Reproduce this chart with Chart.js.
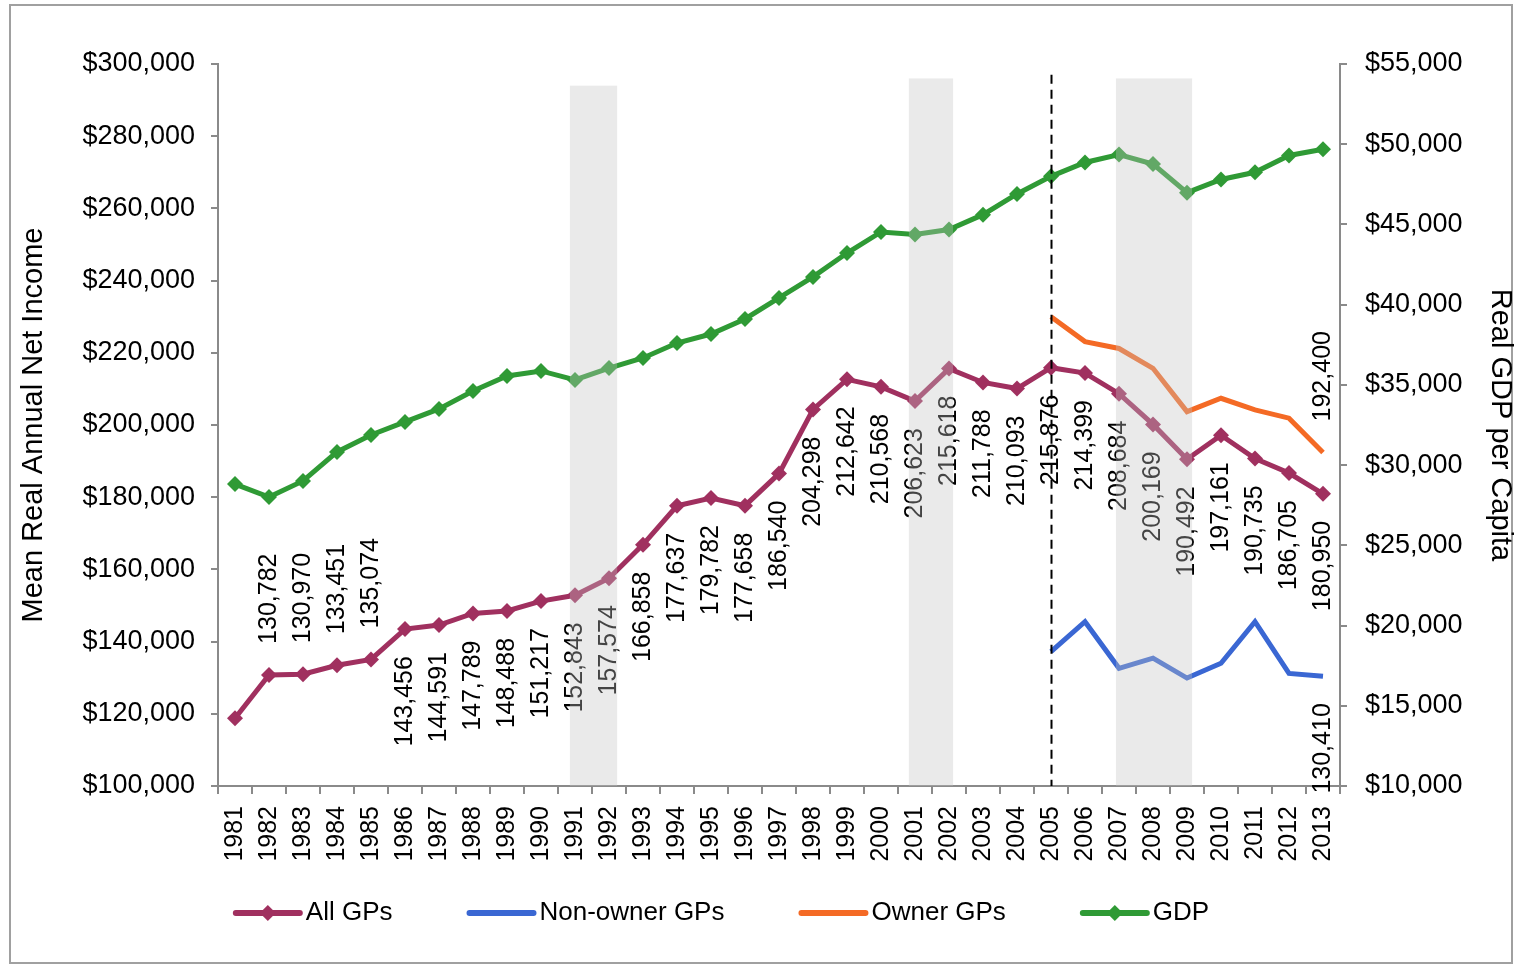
<!DOCTYPE html>
<html>
<head>
<meta charset="utf-8">
<script src="https://cdn.jsdelivr.net/npm/chart.js@4.4.1/dist/chart.umd.min.js"></script>
<style>
  html, body { margin: 0; padding: 0; background: #fff; }
  #wrap { width: 1515px; height: 968px; position: relative; }
</style>
</head>
<body>
<div id="wrap"><canvas id="graph"></canvas></div>
<script>
const years = ["1981","1982","1983","1984","1985","1986","1987","1988","1989","1990",
  "1991","1992","1993","1994","1995","1996","1997","1998","1999","2000",
  "2001","2002","2003","2004","2005","2006","2007","2008","2009","2010",
  "2011","2012","2013"];

const allGPs = [118750, 130782, 130970, 133451, 135074, 143456, 144591, 147789, 148488, 151217,
  152843, 157574, 166858, 177637, 179782, 177658, 186540, 204298, 212642, 210568,
  206623, 215618, 211788, 210093, 215876, 214399, 208684, 200169, 190492, 197161,
  190735, 186705, 180950];

const nonOwnerGPs = [null, null, null, null, null, null, null, null, null, null,
  null, null, null, null, null, null, null, null, null, null,
  null, null, null, null, 137200, 145500, 132600, 135400, 129900, 134000,
  145500, 131200, 130410];

const ownerGPs = [null, null, null, null, null, null, null, null, null, null,
  null, null, null, null, null, null, null, null, null, null,
  null, null, null, null, 230000, 223100, 221200, 215700, 203700, 207400,
  204200, 201900, 192400];

const gdp = [28820, 28010, 29010, 30820, 31880, 32690, 33500, 34620, 35560, 35870,
  35310, 36050, 36680, 37610, 38170, 39110, 40420, 41730, 43220, 44530,
  44370, 44680, 45610, 46900, 48000, 48860, 49360, 48760, 46980, 47800,
  48250, 49300, 49690];

const leftTicks = [100000, 120000, 140000, 160000, 180000, 200000, 220000, 240000, 260000, 280000, 300000];
const rightTicks = [10000, 15000, 20000, 25000, 30000, 35000, 40000, 45000, 50000, 55000];

// shaded recession periods (in year units) and the dashed marker year
const recessionStart = [1990.85, 2000.82, 2006.91];
const recessionEnd = [1992.24, 2002.12, 2009.15];
const recessionTop = [294000, 296000, 296000];
const markerYear = 2005;
const markerTop = 297000;

// where each value label sits relative to its point
const allLabelSide = ["none", "above", "above", "above", "above", "below", "below", "below", "below", "below",
  "below", "below", "below", "below", "below", "below", "below", "below", "below", "below",
  "below", "below", "below", "below", "below", "below", "below", "below", "below", "below",
  "below", "below", "below"];

const FONT = "'Liberation Sans', Arial, sans-serif";
const fmt = v => v.toLocaleString("en-US");

function sideFor(ds, i) {
  if (ds.label === "All GPs") return allLabelSide[i];
  if (i === ds.data.length - 1 && ds.data[i] != null) {
    return ds.label === "Owner GPs" ? "above" : ds.label === "Non-owner GPs" ? "below" : "none";
  }
  return "none";
}

const overlays = {
  id: "overlays",
  beforeDraw(chart) {
    const ctx = chart.ctx;
    ctx.save();
    ctx.fillStyle = "#fff";
    ctx.fillRect(0, 0, chart.width, chart.height);
    ctx.strokeStyle = "#a0a0a0";
    ctx.lineWidth = 2;
    ctx.strokeRect(10, 5, chart.width - 13, chart.height - 10);
    ctx.restore();
  },
  afterDatasetsDraw(chart) {
    const ctx = chart.ctx;
    const x = chart.scales.x, y = chart.scales.y;

    // value labels
    ctx.save();
    ctx.font = "25px " + FONT;
    ctx.fillStyle = "#000";
    ctx.textBaseline = "middle";
    chart.data.datasets.forEach((ds, di) => {
      const meta = chart.getDatasetMeta(di);
      ds.data.forEach((v, i) => {
        const side = sideFor(ds, i);
        if (v == null || side === "none") return;
        const p = meta.data[i];
        ctx.save();
        if (side === "below") {
          ctx.translate(p.x, p.y + 27);
          ctx.textAlign = "right";
        } else {
          ctx.translate(p.x, p.y - 31);
          ctx.textAlign = "left";
        }
        ctx.rotate(-Math.PI / 2);
        ctx.fillText(fmt(v), 0, 0);
        ctx.restore();
      });
    });
    ctx.restore();

    // recession bands
    ctx.save();
    ctx.fillStyle = "rgba(195,195,195,0.35)";
    recessionStart.forEach((s, k) => {
      const x0 = x.getPixelForValue(s - 1981);
      const x1 = x.getPixelForValue(recessionEnd[k] - 1981);
      const top = y.getPixelForValue(recessionTop[k]);
      ctx.fillRect(x0, top, x1 - x0, y.bottom - top);
    });
    ctx.restore();

    // dashed marker line
    ctx.save();
    const mx = Math.round(x.getPixelForValue(markerYear - 1981)) + 0.5;
    ctx.strokeStyle = "#000";
    ctx.lineWidth = 2;
    ctx.setLineDash([9, 6]);
    ctx.beginPath();
    ctx.moveTo(mx, y.getPixelForValue(markerTop));
    ctx.lineTo(mx, y.bottom);
    ctx.stroke();
    ctx.restore();
  },
  afterDraw(chart) {
    // legend: line sample with marker, then name
    const ctx = chart.ctx;
    ctx.save();
    ctx.font = "26px " + FONT;
    ctx.textBaseline = "middle";
    const lineLen = 70, gapText = 3, gapItem = 74, ly = 913;
    const items = chart.data.datasets.map(ds => ({ ds, w: lineLen + gapText + ctx.measureText(ds.label).width }));
    const total = items.reduce((a, it) => a + it.w, 0) + gapItem * (items.length - 1);
    let cx = 721 - total / 2;
    items.forEach(({ ds, w }) => {
      ctx.strokeStyle = ds.borderColor;
      ctx.lineWidth = 6;
      ctx.lineCap = "round";
      ctx.beginPath();
      ctx.moveTo(cx + 3, ly);
      ctx.lineTo(cx + lineLen - 3, ly);
      ctx.stroke();
      if (ds.pointRadius > 0) {
        const r = 8, mid = cx + lineLen / 2;
        ctx.fillStyle = ds.borderColor;
        ctx.beginPath();
        ctx.moveTo(mid, ly - r);
        ctx.lineTo(mid + r, ly);
        ctx.lineTo(mid, ly + r);
        ctx.lineTo(mid - r, ly);
        ctx.closePath();
        ctx.fill();
      }
      ctx.fillStyle = "#000";
      ctx.textAlign = "left";
      ctx.fillText(ds.label, cx + lineLen + gapText, ly);
      cx += w + gapItem;
    });
    ctx.restore();
  }
};

const axisGrey = "#8a8a8a";

new Chart(document.getElementById("graph"), {
  type: "line",
  data: {
    labels: years,
    datasets: [
      {
        label: "All GPs",
        data: allGPs,
        yAxisID: "y",
        borderColor: "#A0305F",
        backgroundColor: "#A0305F",
        borderWidth: 5,
        pointStyle: "rectRot",
        pointRadius: 8,
        pointBorderWidth: 0,
        tension: 0,
      },
      {
        label: "Non-owner GPs",
        data: nonOwnerGPs,
        yAxisID: "y",
        borderColor: "#3A67D3",
        backgroundColor: "#3A67D3",
        borderWidth: 5,
        pointRadius: 0,
        tension: 0,
      },
      {
        label: "Owner GPs",
        data: ownerGPs,
        yAxisID: "y",
        borderColor: "#F46A25",
        backgroundColor: "#F46A25",
        borderWidth: 5,
        pointRadius: 0,
        tension: 0,
      },
      {
        label: "GDP",
        data: gdp,
        yAxisID: "y1",
        borderColor: "#2F9A35",
        backgroundColor: "#2F9A35",
        borderWidth: 5,
        pointStyle: "rectRot",
        pointRadius: 8,
        pointBorderWidth: 0,
        tension: 0,
      },
    ],
  },
  options: {
    responsive: true,
    maintainAspectRatio: false,
    animation: false,
    layout: { padding: { left: 10, right: 0, top: 64, bottom: 87 } },
    plugins: {
      legend: { display: false },
      tooltip: { enabled: false },
    },
    scales: {
      x: {
        type: "category",
        offset: true,
        grid: { offset: true, drawOnChartArea: false, tickLength: 8, color: axisGrey, lineWidth: 2 },
        border: { color: axisGrey, width: 2 },
        ticks: {
          autoSkip: false, minRotation: 90, maxRotation: 90, padding: 12,
          color: "#000", font: { family: FONT, size: 25 },
        },
        afterFit(scale) { scale.height = 95; },
      },
      y: {
        position: "left",
        min: 100000,
        max: 300000,
        afterBuildTicks(scale) { scale.ticks = leftTicks.map(v => ({ value: v })); },
        grid: { drawOnChartArea: false, tickLength: 7, color: axisGrey, lineWidth: 2 },
        border: { color: axisGrey, width: 2 },
        ticks: {
          padding: 16, color: "#000", font: { family: FONT, size: 27 },
          callback: v => "$" + fmt(v),
        },
        title: {
          display: true, text: "Mean Real Annual Net Income", color: "#000",
          font: { family: FONT, size: 29 }, padding: { top: 7, bottom: 0 },
        },
        afterFit(scale) { scale.width = 208; },
      },
      y1: {
        position: "right",
        min: 10000,
        max: 55000,
        afterBuildTicks(scale) { scale.ticks = rightTicks.map(v => ({ value: v })); },
        grid: { drawOnChartArea: false, tickLength: 7, color: axisGrey, lineWidth: 2 },
        border: { color: axisGrey, width: 2 },
        ticks: {
          padding: 18, color: "#000", font: { family: FONT, size: 27 },
          callback: v => "$" + fmt(v),
        },
        title: {
          display: true, text: "Real GDP per Capita", color: "#000",
          font: { family: FONT, size: 29 }, padding: { top: -2, bottom: 0 },
        },
        afterFit(scale) { scale.width = 175; },
      },
    },
  },
  plugins: [overlays],
});
</script>
</body>
</html>
